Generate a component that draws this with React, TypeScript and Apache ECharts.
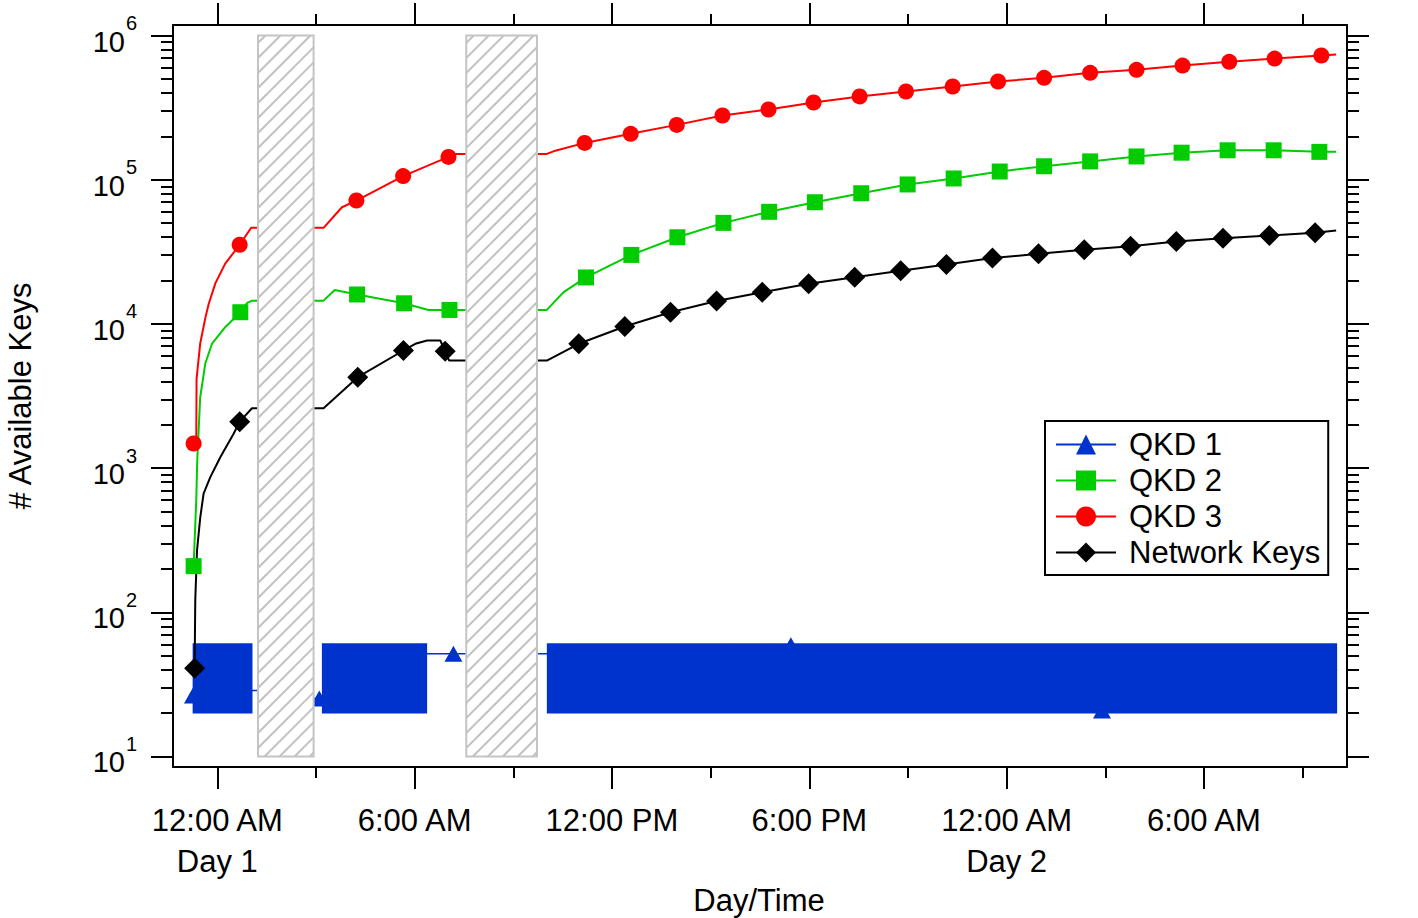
import React, { useEffect, useRef } from "react";
import * as echarts from "echarts";

const FONT = "'Liberation Sans', Arial, Helvetica, sans-serif";

// x values are hours after 12:00 AM of Day 1
const X_MIN = -1.347;
const X_MAX = 34.35;
const xMajorTicks = [0, 6, 12, 18, 24, 30];
const xMinorTicks = [3, 9, 15, 21, 27, 33];
const xTickLabels = ["12:00 AM\nDay 1", "6:00 AM", "12:00 PM", "6:00 PM", "12:00 AM\nDay 2", "6:00 AM"];

// y axis: decades 10^1 .. 10^6 (log scale)
const Y_MIN_EXP = 0.927;
const Y_MAX_EXP = 6.073;
const yDecades = [1, 2, 3, 4, 5, 6];
const yMinorMultipliers = [2, 3, 4, 5, 6, 7, 8, 9];

// hatched (down-time) regions: [start h, end h]
const hatchRegions = [
  [1.237, 2.928],
  [7.57, 9.72],
];
const hatchLow = 10;
const hatchHigh = 1e6;

// QKD 1: fluctuating band segments [start h, end h, low, high]
const qkd1Bands = [
  [-0.75, 1.07, 19.9, 61.1],
  [3.18, 6.38, 19.9, 61.1],
  [10.02, 34.05, 19.9, 61.1],
];
const qkd1Curve = [
  [1.07, 28.7],
  [1.24, 28.7],
  [2.93, 25.2],
  [3.18, 25.2],
  [6.38, 51.5],
  [10.02, 51.5],
  [34.05, 40],
];
const qkd1Markers = [
  [-0.74, 26.5],
  [3.1, 25.2],
  [7.18, 51.5],
  [17.44, 59],
  [26.9, 20.8],
];

// QKD 2
const qkd2Curve = [
  [-0.64, 596],
  [-0.61, 1130],
  [-0.52, 3100],
  [-0.365, 5310],
  [-0.16, 7310],
  [0.24, 9490],
  [0.91, 14000],
  [1.06, 14500],
  [3.23, 14500],
  [3.57, 17200],
  [6.42, 12500],
  [10.02, 12500],
  [10.53, 16600],
  [34.02, 156000],
];
const qkd2Markers = [
  [-0.72, 209], [0.7, 12050], [4.25, 16000], [5.68, 13900], [7.06, 12500],
  [11.21, 21000], [12.59, 30100], [13.99, 39900], [15.39, 50200], [16.78, 59900],
  [18.17, 69800], [19.58, 80600], [20.99, 92700], [22.39, 102000], [23.79, 114000],
  [25.14, 124000], [26.54, 134000], [27.95, 145000], [29.32, 154000], [30.72, 160000],
  [32.12, 160000], [33.51, 156000],
];

// QKD 3
const qkd3Curve = [
  [-0.64, 1500],
  [-0.63, 4180],
  [-0.52, 7310],
  [-0.36, 11100],
  [-0.26, 13800],
  [-0.06, 19100],
  [0.24, 26200],
  [1.03, 46400],
  [3.23, 46400],
  [3.79, 64400],
  [7.24, 151000],
  [10.02, 151000],
  [10.28, 159000],
  [34.02, 739000],
];
const qkd3Markers = [
  [-0.72, 1480], [0.68, 35400], [4.23, 71700], [5.65, 106000], [7.03, 144000],
  [11.17, 180000], [12.57, 208000], [13.97, 240000], [15.36, 279000], [16.76, 307000],
  [18.13, 343000], [19.53, 378000], [20.94, 409000], [22.36, 443000], [23.74, 480000],
  [25.14, 509000], [26.54, 551000], [27.95, 578000], [29.35, 619000], [30.77, 657000],
  [32.15, 692000], [33.57, 727000],
];

// Network Keys
const netCurve = [
  [-0.67, 121],
  [-0.617, 268],
  [-0.517, 457],
  [-0.417, 664],
  [-0.213, 865],
  [0.091, 1190],
  [0.496, 1730],
  [1.055, 2600],
  [3.23, 2600],
  [6.02, 7280],
  [6.38, 7670],
  [6.78, 7670],
  [7.05, 5570],
  [10.02, 5570],
  [34.02, 44400],
];
const netMarkers = [
  [-0.69, 40.9], [0.68, 2100], [4.27, 4270], [5.66, 6540], [6.93, 6470],
  [10.99, 7280], [12.39, 9590], [13.78, 12050], [15.18, 14400], [16.57, 16600],
  [17.98, 19000], [19.38, 21100], [20.78, 23400], [22.17, 25800], [23.57, 28600],
  [24.97, 30600], [26.36, 32700], [27.77, 34600], [29.16, 37300], [30.58, 39300],
  [31.99, 41000], [33.38, 42800],
];

const BLUE = "#0033cc";
const GREEN = "#00cc00";
const RED = "#ff0000";
const BLACK = "#000000";

function buildLine(curve: number[][], markers: number[][]) {
  const items: any[] = [
    ...curve.map(([t, v]) => ({ value: [t, Math.log10(v)], symbol: "none" })),
    ...markers.map(([t, v]) => ({ value: [t, Math.log10(v)] })),
  ];
  items.sort((a, b) => a.value[0] - b.value[0]);
  return items;
}

const yMinorValues: number[] = [];
for (let d = 1; d < 6; d++) {
  for (const m of yMinorMultipliers) yMinorValues.push(d + Math.log10(m));
}

const tickStyle = { color: "#000", width: 2 };

function xAxis(position: "top" | "bottom", major: boolean, labels: boolean) {
  return {
    type: "value",
    position,
    min: X_MIN,
    max: X_MAX,
    axisLine: { show: major, onZero: false, lineStyle: { color: "#000", width: 2 } },
    axisTick: {
      show: true,
      inside: false,
      length: major ? 22 : 11,
      customValues: major ? xMajorTicks : xMinorTicks,
      lineStyle: tickStyle,
    },
    axisLabel: labels
      ? {
          show: true,
          customValues: xMajorTicks,
          margin: 33,
          fontSize: 31,
          lineHeight: 41,
          fontFamily: FONT,
          color: "#000",
          formatter: (v: number) => xTickLabels[xMajorTicks.indexOf(v)] ?? "",
        }
      : { show: false },
    splitLine: { show: false },
  };
}

function yAxis(position: "left" | "right", major: boolean, labels: boolean) {
  return {
    type: "value",
    position,
    min: Y_MIN_EXP,
    max: Y_MAX_EXP,
    axisLine: { show: major, onZero: false, lineStyle: { color: "#000", width: 2 } },
    axisTick: {
      show: true,
      inside: false,
      length: major ? 22 : 12,
      customValues: major ? yDecades : yMinorValues,
      lineStyle: tickStyle,
    },
    axisLabel: labels
      ? {
          show: true,
          customValues: yDecades,
          margin: 36,
          padding: [0, 0, 2, 0],
          formatter: (v: number) => `{b|10}{s|${Math.round(v)}}`,
          rich: {
            b: { fontSize: 29, fontFamily: FONT, color: "#000", verticalAlign: "bottom" },
            s: {
              fontSize: 20,
              fontFamily: FONT,
              color: "#000",
              verticalAlign: "bottom",
              padding: [0, 0, 23, 1],
            },
          },
        }
      : { show: false },
    splitLine: { show: false },
  };
}

function lineSeries(name: string, color: string, symbol: string, size: any, width: number, data: any[]) {
  return {
    type: "line",
    name,
    data,
    xAxisIndex: 0,
    yAxisIndex: 0,
    symbol,
    symbolSize: size,
    showAllSymbol: true,
    color,
    lineStyle: { color, width },
    itemStyle: { color },
    emphasis: { disabled: true },
    silent: true,
    z: 3,
  };
}

export default function App() {
  const ref = useRef<HTMLDivElement>(null);

  useEffect(() => {
    if (!ref.current) return;
    const chart = echarts.init(ref.current, null, { renderer: "svg" });

    const option: any = {
      animation: false,
      backgroundColor: "#ffffff",
      grid: { left: 173, top: 25, width: 1174, height: 742, containLabel: false, outerBoundsMode: "none" },
      xAxis: [
        xAxis("bottom", true, true),
        xAxis("bottom", false, false),
        xAxis("top", true, false),
        xAxis("top", false, false),
      ],
      yAxis: [
        yAxis("left", true, true),
        yAxis("left", false, false),
        yAxis("right", true, false),
        yAxis("right", false, false),
      ],
      legend: {
        show: true,
        data: ["QKD 1", "QKD 2", "QKD 3", "Network Keys"],
        orient: "vertical",
        left: 1045,
        top: 421,
        padding: [8, 8, 7, 10],
        itemGap: 5,
        itemWidth: 60,
        itemHeight: 25,
        backgroundColor: "#ffffff",
        borderColor: "#000",
        borderWidth: 2,
        borderRadius: 0,
        selectedMode: false,
        textStyle: {
          fontSize: 31,
          lineHeight: 30,
          fontFamily: FONT,
          color: "#000",
          padding: [0, 0, 0, 8],
        },
      },
      graphic: [
        {
          type: "text",
          x: 759,
          y: 900,
          style: {
            text: "Day/Time",
            fontSize: 31,
            fontFamily: FONT,
            fill: "#000",
            align: "center",
            verticalAlign: "middle",
            textAlign: "center",
            textVerticalAlign: "middle",
          },
        },
        {
          type: "text",
          x: 20,
          y: 396,
          rotation: Math.PI / 2,
          style: {
            text: "# Available Keys",
            fontSize: 31,
            fontFamily: FONT,
            fill: "#000",
            align: "center",
            verticalAlign: "middle",
            textAlign: "center",
            textVerticalAlign: "middle",
          },
        },
      ],
      series: [
        lineSeries("QKD 1", BLUE, "triangle", [18, 16], 1.5, buildLine(qkd1Curve, qkd1Markers)),
        {
          type: "custom",
          name: "QKD 1 band",
          xAxisIndex: 0,
          yAxisIndex: 0,
          silent: true,
          z: 3,
          data: qkd1Bands.map(([a, b, lo, hi]) => [a, b, Math.log10(lo), Math.log10(hi)]),
          encode: { x: [0, 1], y: [2, 3] },
          renderItem: (_params: any, api: any) => {
            const p0 = api.coord([api.value(0), api.value(3)]);
            const p1 = api.coord([api.value(1), api.value(2)]);
            return {
              type: "rect",
              shape: { x: p0[0], y: p0[1], width: p1[0] - p0[0], height: p1[1] - p0[1] },
              style: { fill: BLUE, stroke: "none" },
            };
          },
        },
        lineSeries("QKD 2", GREEN, "rect", 16, 2, buildLine(qkd2Curve, qkd2Markers)),
        lineSeries("QKD 3", RED, "circle", 16, 2, buildLine(qkd3Curve, qkd3Markers)),
        lineSeries("Network Keys", BLACK, "diamond", 21, 2, buildLine(netCurve, netMarkers)),
        {
          type: "custom",
          name: "hatch",
          xAxisIndex: 0,
          yAxisIndex: 0,
          silent: true,
          z: 10,
          data: hatchRegions.map(([a, b]) => [a, b, Math.log10(hatchLow), Math.log10(hatchHigh)]),
          encode: { x: [0, 1], y: [2, 3] },
          renderItem: (_params: any, api: any) => {
            const p0 = api.coord([api.value(0), api.value(3)]);
            const p1 = api.coord([api.value(1), api.value(2)]);
            const x0 = p0[0], y0 = p0[1], x1 = p1[0], y1 = p1[1];
            const children: any[] = [
              { type: "rect", shape: { x: x0, y: y0, width: x1 - x0, height: y1 - y0 }, style: { fill: "#ffffff" } },
            ];
            const step = 15;
            for (let c = x0 + y0 + step / 2; c < x1 + y1; c += step) {
              const xa = Math.max(x0, c - y1);
              const xb = Math.min(x1, c - y0);
              if (xb > xa) {
                children.push({
                  type: "line",
                  shape: { x1: xa, y1: c - xa, x2: xb, y2: c - xb },
                  style: { stroke: "#c2c2c2", lineWidth: 2 },
                });
              }
            }
            children.push({
              type: "rect",
              shape: { x: x0, y: y0, width: x1 - x0, height: y1 - y0 },
              style: { fill: "none", stroke: "#c4c4c4", lineWidth: 2 },
            });
            return { type: "group", children };
          },
        },
      ],
    };

    chart.setOption(option);
    return () => chart.dispose();
  }, []);

  return (
    <div
      ref={ref}
      style={{ position: "fixed", left: 0, top: 0, width: 1418, height: 918, background: "#fff" }}
    />
  );
}
